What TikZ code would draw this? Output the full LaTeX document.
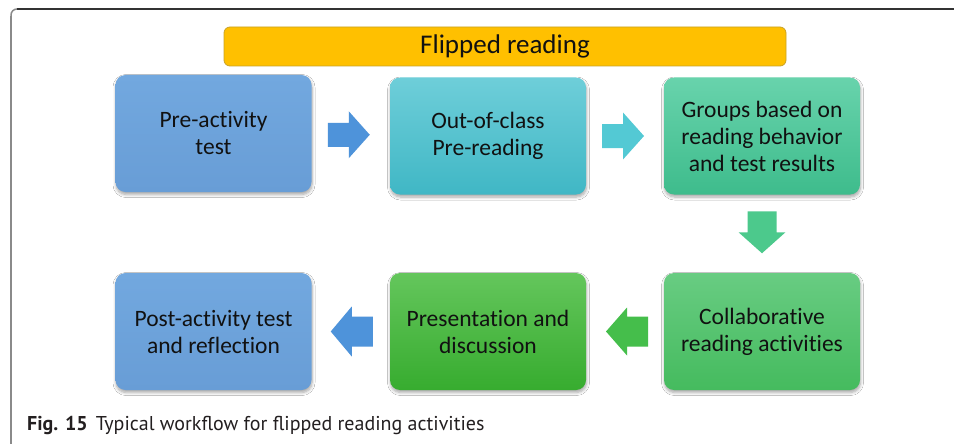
\documentclass[tikz,border=0pt]{standalone}
\usepackage{fontspec}
\setmainfont[Ligatures={NoCommon}]{Carlito}
\newfontfamily\capfont{PT Sans}
\usetikzlibrary{calc,shadows.blur}

\definecolor{bannerfill}{HTML}{FFC000}
\definecolor{bannerline}{HTML}{C9A227}
\definecolor{blueTop}{HTML}{72A8DF}
\definecolor{blueBot}{HTML}{689DD6}
\definecolor{cyanTop}{HTML}{6ECED9}
\definecolor{cyanBot}{HTML}{40B7C5}
\definecolor{tealTop}{HTML}{68D3AC}
\definecolor{tealBot}{HTML}{3EBC8C}
\definecolor{grnTop}{HTML}{68CC82}
\definecolor{grnBot}{HTML}{45BB5E}
\definecolor{limeTop}{HTML}{64C65C}
\definecolor{limeBot}{HTML}{37AC2F}
\definecolor{arrBlue}{HTML}{4E93DA}
\definecolor{arrCyan}{HTML}{53C9D4}
\definecolor{arrTeal}{HTML}{4CC98C}
\definecolor{arrGreen}{HTML}{45BE4B}
\definecolor{inkcol}{HTML}{111111}
\definecolor{captioncol}{HTML}{231F20}
\definecolor{frameside}{HTML}{8A8A8A}
\definecolor{frametop}{HTML}{333333}

\tikzset{
  stagebox/.style={rounded corners=10pt, minimum width=196pt, minimum height=117pt,
    align=center, text=inkcol, inner sep=4pt,
    font=\fontsize{23.5}{27}\selectfont,
    blur shadow={shadow xshift=0.5pt, shadow yshift=-2.5pt, shadow blur radius=3pt,
      shadow blur steps=6, shadow opacity=35}},
  bluebox/.style={stagebox, top color=blueTop, bottom color=blueBot},
  cyanbox/.style={stagebox, top color=cyanTop, bottom color=cyanBot},
  tealbox/.style={stagebox, top color=tealTop, bottom color=tealBot},
  greenbox/.style={stagebox, top color=grnTop, bottom color=grnBot},
  limebox/.style={stagebox, top color=limeTop, bottom color=limeBot},
  bannerbox/.style={rounded corners=6pt, fill=bannerfill, draw=bannerline, line width=0.8pt,
    minimum width=562pt, minimum height=39pt, text=inkcol,
    font=\fontsize{27}{30}\selectfont},
}

% block arrow centred on #1, rotated by #2, colour #3, shaft half width #4, head half width #5
\newcommand\blockarrow[5]{%
  \begin{scope}[shift={(#1)}, rotate=#2]
    \fill[#3] (-21,-#4) -- (0,-#4) -- (0,-#5) -- (21,0) -- (0,#5) -- (0,#4) -- (-21,#4) -- cycle;
  \end{scope}}

\begin{document}
\begin{tikzpicture}[x=1pt, y=-1pt]
  \useasboundingbox (0,0) rectangle (954,444);
  \fill[white] (0,0) rectangle (954,444);

  % figure frame: grey left side, dark top rule, rounded corner between them
  \draw[frameside, line width=1.5pt] (11,444) -- (11,16);
  \draw[frameside, line width=1.5pt, rounded corners=6pt] (11,20) -- (11,9) -- (22,9);
  \draw[frametop, line width=1.8pt] (17,9) -- (954,9);

  % title banner
  \node[bannerbox] (banner) at (505,46.5) {Flipped reading};

  % first row
  \node[bluebox] (pretest) at (213.5,133.5) {Pre-activity\\test};
  \node[cyanbox] (preread) at (488,136) {Out-of-class\\Pre-reading};
  \node[tealbox] (groups)  at (762,136) {Groups based on\\reading behavior\\and test results};

  % second row
  \node[greenbox] (collab)  at (762,331.5) {Collaborative\\reading activities};
  \node[limebox]  (present) at (488,331.5) {Presentation and\\discussion};
  \node[bluebox]  (posttest) at (213.5,331.5) {Post-activity test\\and reflection};

  % flow arrows between the stages
  \coordinate (a1) at ($(pretest.east)!0.5!(preread.west)+(-2,0)$);
  \coordinate (a2) at ($(preread.east)!0.5!(groups.west)+(-2,0)$);
  \coordinate (a3) at ($(groups.south)!0.5!(collab.north)+(0,-1.5)$);
  \coordinate (a4) at ($(collab.west)!0.5!(present.east)+(2,0)$);
  \coordinate (a5) at ($(present.west)!0.5!(posttest.east)+(1,0)$);
  \blockarrow{a1}{0}{arrBlue}{12}{23.5}
  \blockarrow{a2}{0}{arrCyan}{12}{23.5}
  \blockarrow{a3}{-90}{arrTeal}{14.5}{23.5}
  \blockarrow{a4}{180}{arrGreen}{15}{24}
  \blockarrow{a5}{180}{arrBlue}{15}{25}

  % caption
  \node[anchor=base west, inner sep=0pt, text=captioncol,
        font=\capfont\fontsize{20}{23}\selectfont] (caption) at (27,430)
    {\textbf{Fig. 15}\hspace{8pt}Typical workflow for flipped reading activities};
\end{tikzpicture}
\end{document}
